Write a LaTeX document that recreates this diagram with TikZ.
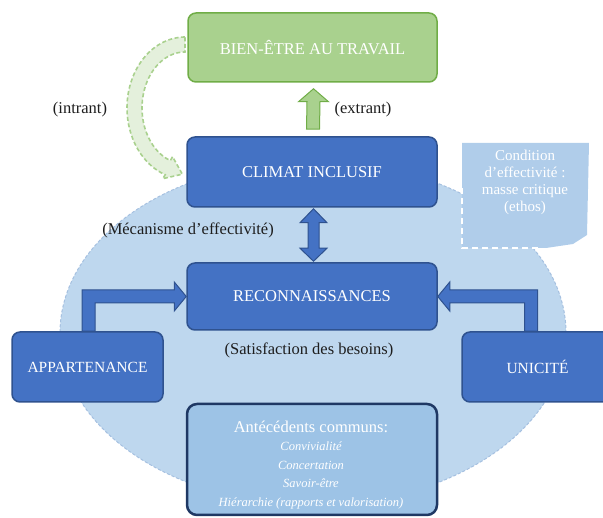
\documentclass[tikz,border=0pt]{standalone}
\usepackage{fontspec}
\setmainfont{Liberation Serif}
\usetikzlibrary{calc}
\definecolor{bluefill}{RGB}{68,114,196}
\definecolor{blueline}{RGB}{47,82,143}
\definecolor{greenfill}{RGB}{169,209,142}
\definecolor{greenline}{RGB}{112,173,71}
\definecolor{paleblue}{RGB}{190,215,238}
\definecolor{paleedge}{RGB}{165,192,224}
\definecolor{condblue}{RGB}{176,205,234}
\definecolor{midblue}{RGB}{157,195,230}
\definecolor{navy}{RGB}{31,56,100}
\definecolor{palegreen}{RGB}{228,240,220}
\definecolor{labelgray}{RGB}{30,30,30}
\begin{document}
\begin{tikzpicture}[x=1pt,y=1pt,
  bluebox/.style={draw=blueline, fill=bluefill, line width=1.5pt, rounded corners=8pt,
    text=white, font=\fontsize{16.5}{19}\selectfont, inner sep=0pt},
  greenbox/.style={draw=greenline, fill=greenfill, line width=1.5pt, rounded corners=8pt,
    text=white, font=\fontsize{16.5}{19}\selectfont, inner sep=0pt},
  antebox/.style={draw=navy, fill=midblue, line width=2.5pt, rounded corners=10pt, inner sep=0pt},
  lbl/.style={text=labelgray, font=\fontsize{16.5}{19}\selectfont, inner sep=0pt},
  bluearrow/.style={draw=blueline, fill=bluefill, line width=1pt, line join=miter},
  greenarrow/.style={draw=greenline, fill=greenfill, line width=1pt, line join=miter},
  intrantarrow/.style={draw=greenfill, fill=palegreen, line width=1.6pt, dash pattern=on 4pt off 2.5pt},
  blob/.style={draw=paleedge, fill=paleblue, line width=1pt, dash pattern=on 3pt off 2pt}
]
\useasboundingbox (0,0) rectangle (603,518);

% big pale ellipse
\draw[blob] (313,185) ellipse [x radius=253pt, y radius=172pt];

% condition box
\fill[condblue] (462,375) -- (589,375) -- (587,283) -- (573,274) -- (546,270) -- (462,270) -- cycle;
\draw[white, line width=1.5pt, dash pattern=on 6pt off 4pt] (462,330) -- (462,270) -- (540,270);
\node[text=white, align=center, font=\fontsize{15}{17}\selectfont, inner sep=0pt] (cond) at (525,336)
  {Condition\\d’effectivité :\\masse critique\\(ethos)};

% boxes
\node[greenbox, minimum width=249pt, minimum height=69pt] (bien) at (312.5,470.5) {BIEN-ÊTRE AU TRAVAIL};
\node[bluebox, minimum width=250pt, minimum height=70pt] (climat) at (312,346) {CLIMAT INCLUSIF};
\node[bluebox, minimum width=250pt, minimum height=67pt] (recon) at (312,221.5) {RECONNAISSANCES};
\node[bluebox, minimum width=151pt, minimum height=70pt, font=\fontsize{15.5}{18}\selectfont] (app) at (87.5,151) {APPARTENANCE};
\node[bluebox, minimum width=151pt, minimum height=70pt, font=\fontsize{15.5}{18}\selectfont] (uni) at (537.5,151) {UNICITÉ};
\node[antebox, minimum width=250pt, minimum height=111pt] (ante) at (312,58.5) {};
\node[text=white, align=center, inner sep=0pt, font=\fontsize{12.5}{18.5}\selectfont\itshape] (antetext) at (311,53)
  {{\upshape\fontsize{16.5}{18.5}\selectfont Antécédents communs:}\\
   Convivialité\\
   Concertation\\
   Savoir-être\\
   Hiérarchie (rapports et valorisation)};

% intrant curved dashed arrow (from bien to climat)
\draw[intrantarrow] (185,410) ++(90:58pt and 71pt)
  arc[start angle=90, end angle=250, x radius=58pt, y radius=71pt]
  -- (162.8,339.3) -- (182.3,343.8) -- (172.6,361.3) -- (170.3,357.4)
  arc[start angle=250, end angle=90, x radius=43pt, y radius=56pt] -- cycle;

% extrant arrow
\coordinate (es) at ($(climat.north)+(1,7)$);
\coordinate (ee) at ($(bien.south)+(1,-6)$);
\draw[greenarrow] ($(es)+(-6.5,0)$) -- ($(ee)+(-6.5,-13)$) -- ($(ee)+(-15,-13)$) -- (ee)
  -- ($(ee)+(15,-13)$) -- ($(ee)+(6.5,-13)$) -- ($(es)+(6.5,0)$) -- cycle;

% double arrow climat <-> recon
\coordinate (dt) at ($(climat.south)+(1.5,-1)$);
\coordinate (db) at ($(recon.north)+(1.5,1)$);
\draw[bluearrow] (dt) -- ($(dt)+(13.5,-14)$) -- ($(dt)+(5.5,-14)$) -- ($(db)+(5.5,13)$)
  -- ($(db)+(13.5,13)$) -- (db) -- ($(db)+(-13.5,13)$) -- ($(db)+(-5.5,13)$)
  -- ($(dt)+(-5.5,-14)$) -- ($(dt)+(-13.5,-14)$) -- cycle;

% left elbow arrow app -> recon
\coordinate (an) at ($(app.north)+(1,0)$);
\coordinate (lc) at (an |- recon.west);
\draw[bluearrow] ($(an)+(-6.5,0)$) -- ($(lc)+(-6.5,6.5)$) -- ($(recon.west)+(-12,6.5)$)
  -- ($(recon.west)+(-12,14.5)$) -- (recon.west) -- ($(recon.west)+(-12,-14.5)$)
  -- ($(recon.west)+(-12,-6.5)$) -- ($(lc)+(6.5,-6.5)$) -- ($(an)+(6.5,0)$) -- cycle;

% right elbow arrow uni -> recon
\coordinate (un) at ($(uni.north)+(-6.5,0)$);
\coordinate (rc) at (un |- recon.east);
\draw[bluearrow] ($(un)+(6.5,0)$) -- ($(rc)+(6.5,6.5)$) -- ($(recon.east)+(12,6.5)$)
  -- ($(recon.east)+(12,14.5)$) -- (recon.east) -- ($(recon.east)+(12,-14.5)$)
  -- ($(recon.east)+(12,-6.5)$) -- ($(rc)+(-6.5,-6.5)$) -- ($(un)+(-6.5,0)$) -- cycle;

% labels
\node[lbl] (intrant) at (80,408) {(intrant)};
\node[lbl] (extrant) at (363,408) {(extrant)};
\node[lbl] (meca) at (188,288) {(Mécanisme d’effectivité)};
\node[lbl] (satis) at (309,168) {(Satisfaction des besoins)};
\end{tikzpicture}
\end{document}
